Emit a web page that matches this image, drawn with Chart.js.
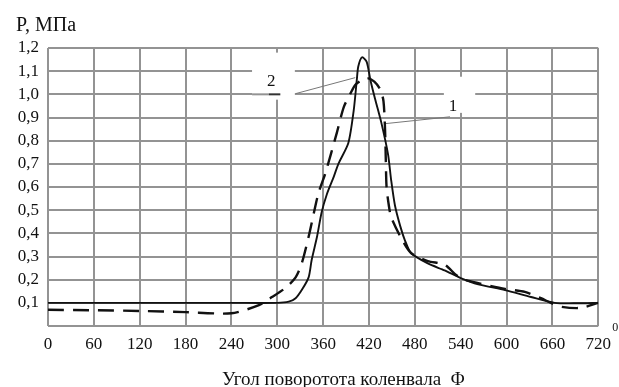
<!DOCTYPE html>
<html>
<head>
<meta charset="utf-8">
<script src="https://cdn.jsdelivr.net/npm/chart.js@4"></script>
<style>
  html, body { margin: 0; padding: 0; background: #fff; }
  #wrap { width: 619px; height: 387px; }
</style>
</head>
<body>
<div id="wrap"><canvas id="c0" width="619" height="387"></canvas></div>
<script>
// --- data ---
// curve 1 (solid)
var solidAngle = [0, 60, 120, 180, 240, 300, 315, 324, 332, 341, 345, 352, 358, 365, 374, 380, 393, 400, 404, 406, 411, 417, 422, 428, 436, 445, 449, 454, 461, 467, 475, 497, 519, 540, 563, 598, 632, 663, 693, 720];
var solidP     = [0.10, 0.10, 0.10, 0.10, 0.10, 0.10, 0.105, 0.12, 0.155, 0.21, 0.285, 0.385, 0.49, 0.57, 0.645, 0.70, 0.79, 0.93, 1.06, 1.12, 1.16, 1.14, 1.06, 0.98, 0.88, 0.74, 0.63, 0.52, 0.43, 0.37, 0.315, 0.27, 0.24, 0.207, 0.18, 0.155, 0.125, 0.10, 0.098, 0.10];

// curve 2 (dashed)
var dashAngle = [0, 60, 120, 180, 240, 276, 293, 311, 324, 332, 341, 348, 354, 363, 378, 387, 396, 402, 410, 418, 427, 435, 439, 441, 442, 443, 446, 449, 462, 475, 497, 519, 534, 545, 563, 598, 624, 645, 658, 672, 697, 720];
var dashP     = [0.07, 0.068, 0.065, 0.06, 0.055, 0.09, 0.125, 0.165, 0.21, 0.27, 0.385, 0.49, 0.575, 0.66, 0.835, 0.945, 1.005, 1.04, 1.06, 1.07, 1.055, 1.02, 0.97, 0.85, 0.72, 0.60, 0.52, 0.47, 0.38, 0.315, 0.28, 0.265, 0.22, 0.20, 0.185, 0.16, 0.147, 0.12, 0.10, 0.083, 0.078, 0.10];

var xTicks = [0, 60, 120, 180, 240, 300, 360, 420, 480, 540, 600, 660, 720];
var yTitle = 'P, МПа';
var xTitle = 'Угол поворотота коленвала  Φ';

var gridColor = '#939393';
var serif = '"Liberation Serif", "DejaVu Serif", serif';

function toXY(xs, ys) {
  var out = [];
  for (var i = 0; i < xs.length; i++) {
    out.push({ x: xs[i], y: ys[i] });
  }
  return out;
}

// labels "1", "2" with their leaders; white patches cut the grid behind them
var callouts = {
  id: 'callouts',
  beforeDatasetsDraw: function(chart) {
    var ctx = chart.ctx;
    var xs = chart.scales.x, ys = chart.scales.y;
    function X(v) { return xs.getPixelForValue(v); }
    function Y(v) { return ys.getPixelForValue(v); }
    ctx.save();
    ctx.fillStyle = '#fff';
    // patch behind "2"
    ctx.fillRect(X(267), Y(1.18), X(323) - X(267), Y(0.977) - Y(1.18));
    // patch behind "1"
    ctx.fillRect(X(518), Y(1.076), X(559) - X(518), Y(0.92) - Y(1.076));
    // gridline 1.0 continues up to the underline of "2"
    ctx.strokeStyle = gridColor;
    ctx.lineWidth = 2;
    ctx.beginPath();
    ctx.moveTo(X(267), Y(1.0));
    ctx.lineTo(X(289), Y(1.0));
    ctx.stroke();
    ctx.strokeStyle = '#333';
    ctx.beginPath();
    ctx.moveTo(X(289), Y(1.0));
    ctx.lineTo(X(304), Y(1.0));
    ctx.stroke();
    // leaders
    ctx.strokeStyle = '#777';
    ctx.lineWidth = 1;
    ctx.beginPath();
    ctx.moveTo(X(324), Y(1.003));
    ctx.lineTo(X(402), Y(1.072));
    ctx.moveTo(X(440), Y(0.873));
    ctx.lineTo(X(526), Y(0.903));
    ctx.stroke();
    // numbers
    ctx.fillStyle = '#111';
    ctx.font = '17px ' + serif;
    ctx.textAlign = 'center';
    ctx.textBaseline = 'middle';
    ctx.fillText('2', X(292), Y(1.054));
    ctx.fillText('1', X(530), Y(0.946));
    ctx.restore();
  },
  afterDraw: function(chart) {
    var ctx = chart.ctx;
    var xs = chart.scales.x;
    var area = chart.chartArea;
    ctx.save();
    ctx.fillStyle = '#111';
    ctx.textBaseline = 'alphabetic';
    ctx.textAlign = 'left';
    ctx.font = '20px ' + serif;
    ctx.fillText(yTitle, 16, 31);
    ctx.font = '19px ' + serif;
    ctx.fillText(xTitle, area.left + 174, 385);
    // degree mark after 720
    ctx.font = '12px ' + serif;
    ctx.fillText('0', xs.getPixelForValue(720) + 14, area.bottom + 5);
    ctx.restore();
  }
};

var chart = new Chart(document.getElementById('c0'), {
  type: 'line',
  data: {
    datasets: [
      {
        label: '1',
        data: toXY(solidAngle, solidP),
        borderColor: '#111',
        borderWidth: 1.9,
        pointRadius: 0,
        tension: 0.25,
        fill: false
      },
      {
        label: '2',
        data: toXY(dashAngle, dashP),
        borderColor: '#111',
        borderWidth: 2.4,
        borderDash: [16, 9],
        pointRadius: 0,
        tension: 0.25,
        fill: false
      }
    ]
  },
  options: {
    responsive: false,
    animation: false,
    layout: { padding: { top: 48, right: 18, left: 0, bottom: 0 } },
    plugins: {
      legend: { display: false },
      tooltip: { enabled: false }
    },
    scales: {
      x: {
        type: 'linear',
        min: 0,
        max: 720,
        afterBuildTicks: function(scale) {
          scale.ticks = xTicks.map(function(v) { return { value: v }; });
        },
        afterFit: function(scale) { scale.height = 61; },
        grid: { color: gridColor, lineWidth: 2, drawTicks: false },
        border: { display: false },
        ticks: {
          autoSkip: false,
          maxRotation: 0,
          padding: 8,
          color: '#111',
          font: { family: serif, size: 17 }
        }
      },
      y: {
        type: 'linear',
        min: 0,
        max: 1.2,
        afterFit: function(scale) { scale.width = 48; },
        grid: { color: gridColor, lineWidth: 2, drawTicks: false },
        border: { display: false },
        ticks: {
          stepSize: 0.1,
          autoSkip: false,
          padding: 9,
          color: '#111',
          font: { family: serif, size: 17 },
          callback: function(v) {
            if (Math.abs(v) < 1e-6) return '';
            return v.toFixed(1).replace('.', ',');
          }
        }
      }
    }
  },
  plugins: [callouts]
});
</script>
</body>
</html>
